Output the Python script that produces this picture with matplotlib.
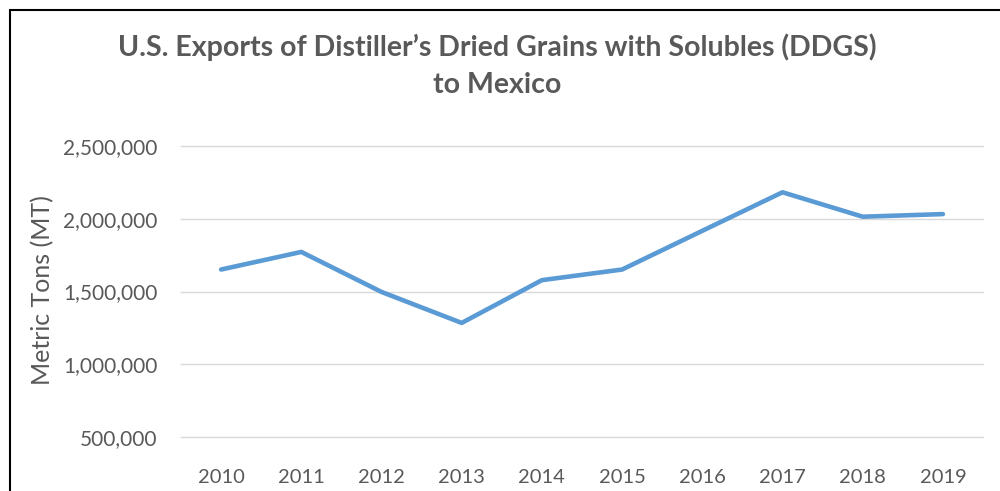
import matplotlib
matplotlib.use("Agg")
import matplotlib.pyplot as plt
from matplotlib.patches import Rectangle
from matplotlib.ticker import FuncFormatter

# --- data ---
years = ["2010", "2011", "2012", "2013", "2014", "2015", "2016", "2017", "2018", "2019"]
exports_mt = [1651000, 1772000, 1497000, 1284000, 1578000, 1651000, 1917000, 2182000, 2014000, 2032000]
y_ticks = [500000, 1000000, 1500000, 2000000, 2500000]

text_col = "#595959"
plt.rcParams["font.family"] = ["Lato", "DejaVu Sans"]

fig = plt.figure(figsize=(10, 4.91), dpi=100)
ax = fig.add_axes([0.181, 1 - 437 / 491, 0.802, (437 - 146) / 491])

x = list(range(len(years)))
ax.plot(x, exports_mt, color="#5b9bd5", linewidth=3.3, solid_capstyle="round",
        solid_joinstyle="round", zorder=3)

ax.set_xlim(-0.5, len(years) - 0.5)
ax.set_ylim(500000, 2500000)
ax.set_yticks(y_ticks)
ax.yaxis.set_major_formatter(FuncFormatter(lambda v, p: f"{int(v):,}"))
ax.set_xticks(x)
ax.set_xticklabels(years)

ax.grid(axis="y", color="#d9d9d9", linewidth=1.0)
for gl in ax.get_ygridlines():
    gl.set_clip_on(False)  # keep the top and bottom lines full width
ax.set_axisbelow(True)
for s in ax.spines.values():
    s.set_visible(False)
ax.tick_params(axis="both", length=0, labelcolor=text_col)
ax.tick_params(axis="y", pad=17, labelsize=15)
ax.tick_params(axis="x", pad=23, labelsize=14.5)

fig.text(0.0425, 1 - 290 / 491, "Metric Tons (MT)", rotation=90, ha="center", va="center",
         fontsize=18, color=text_col)

fig.text(0.497, 1 - 47 / 491, "U.S. Exports of Distiller\u2019s Dried Grains with Solubles (DDGS)",
         ha="center", va="center", fontsize=20.5, fontweight="bold", color=text_col)
fig.text(0.497, 1 - 85 / 491, "to Mexico", ha="center", va="center",
         fontsize=20.5, fontweight="bold", color=text_col)

# chart border (cropped at right and bottom)
fig.add_artist(Rectangle((9.5 / 1000, -0.2), 1.2, 1 - 9.5 / 491 + 0.2, transform=fig.transFigure,
                         fill=False, edgecolor="black", linewidth=1.5))

fig.savefig("out.png", dpi=100, facecolor="white")
